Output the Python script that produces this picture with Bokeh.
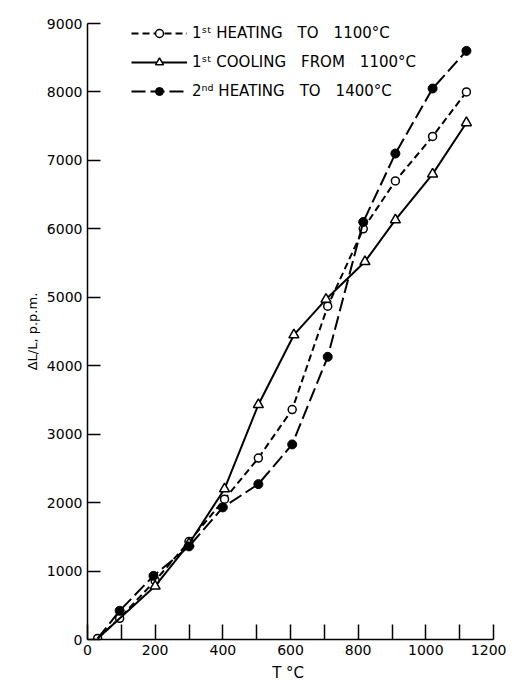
from bokeh.plotting import figure
from bokeh.models import Range1d, FixedTicker, Legend, LegendItem
from bokeh.embed import file_html
from bokeh.resources import INLINE

# 1st heating to 1100 C (open circles)
t_heat1 = [30, 95, 200, 300, 405, 505, 605, 710, 815, 910, 1020, 1120]
d_heat1 = [15, 310, 860, 1430, 2050, 2650, 3360, 4870, 6000, 6700, 7350, 8000]

# 1st cooling from 1100 C (triangles); last point is the common origin of the curves
t_cool1 = [1120, 1020, 910, 820, 705, 610, 505, 405, 300, 200, 30]
d_cool1 = [7550, 6800, 6130, 5520, 4970, 4450, 3430, 2200, 1400, 780, 15]

# 2nd heating to 1400 C (filled circles); first point is the common origin
t_heat2 = [30, 95, 195, 300, 400, 505, 605, 710, 815, 910, 1020, 1120]
d_heat2 = [15, 420, 930, 1360, 1930, 2270, 2850, 4130, 6100, 7100, 8050, 8600]

x_ticks = [0, 200, 400, 600, 800, 1000, 1200]
y_ticks = [0, 1000, 2000, 3000, 4000, 5000, 6000, 7000, 8000, 9000]

SP = "\u2002\u2002"
labels = ["1\u02e2\u1d57 HEATING" + SP + "TO" + SP + "1100\u00b0C",
          "1\u02e2\u1d57 COOLING" + SP + "FROM" + SP + "1100\u00b0C",
          "2\u207f\u1d48 HEATING" + SP + "TO" + SP + "1400\u00b0C"]

FONT = "DejaVu Sans"

p = figure(width=506, height=684, x_range=Range1d(0, 1200), y_range=Range1d(0, 9000),
           output_backend="svg", toolbar_location=None,
           min_border_left=87, min_border_right=13, min_border_top=23, min_border_bottom=43)
p.xgrid.visible = False
p.ygrid.visible = False
p.outline_line_color = None
p.background_fill_color = "white"
p.border_fill_color = "white"

for ax in (p.xaxis[0], p.yaxis[0]):
    ax.axis_line_color = "black"
    ax.axis_line_width = 1.5
    ax.major_tick_line_color = "black"
    ax.major_tick_line_width = 1.5
    ax.major_tick_out = 0
    ax.major_label_text_font = FONT
    ax.major_label_text_font_size = "14px"
    ax.major_label_text_color = "black"
    ax.axis_label_text_font = FONT
    ax.axis_label_text_font_style = "normal"
    ax.axis_label_text_color = "black"

p.xaxis.ticker = FixedTicker(ticks=x_ticks, minor_ticks=list(range(100, 1200, 200)))
p.xaxis.major_tick_in = 15
p.xaxis.minor_tick_in = 15
p.xaxis.minor_tick_out = 0
p.xaxis.minor_tick_line_color = "black"
p.xaxis.minor_tick_line_width = 1.5
p.xaxis.major_label_standoff = 5
p.xaxis.axis_label = "T  \u00b0C"
p.xaxis.axis_label_text_font_size = "15px"
p.xaxis.axis_label_standoff = 6

p.yaxis.ticker = FixedTicker(ticks=y_ticks)
p.yaxis.major_tick_in = 13
p.yaxis.minor_tick_line_color = None
p.yaxis.major_label_standoff = 5
p.yaxis.axis_label = "\u0394L/L, p.p.m."
p.yaxis.axis_label_text_font_size = "13px"
p.yaxis.axis_label_standoff = 4

r1l = p.line(t_heat1, d_heat1, line_color="black", line_width=2, line_dash="7 4")
r1m = p.scatter(t_heat1, d_heat1, marker="circle", size=8, fill_color="white",
                line_color="black", line_width=1.5)

r2l = p.line(t_cool1, d_cool1, line_color="black", line_width=2)
r2m = p.scatter(t_cool1[:-1], d_cool1[:-1], marker="triangle", size=10, fill_color="white",
                line_color="black", line_width=1.5)

r3l = p.line(t_heat2, d_heat2, line_color="black", line_width=2, line_dash="14 5")
r3m = p.scatter(t_heat2[1:], d_heat2[1:], marker="circle", size=9, fill_color="black",
                line_color="black", line_width=1)

legend = Legend(items=[LegendItem(label=labels[0], renderers=[r1l, r1m]),
                       LegendItem(label=labels[1], renderers=[r2l, r2m]),
                       LegendItem(label=labels[2], renderers=[r3l, r3m])],
                location=(44, 538), orientation="vertical",
                glyph_width=56, glyph_height=20, label_height=20,
                label_standoff=5, spacing=9, padding=0, margin=0,
                label_text_font=FONT, label_text_font_size="15px", label_text_color="black",
                background_fill_alpha=0, border_line_alpha=0)
p.add_layout(legend, "center")

open("out.html", "w").write(file_html(p, INLINE))
